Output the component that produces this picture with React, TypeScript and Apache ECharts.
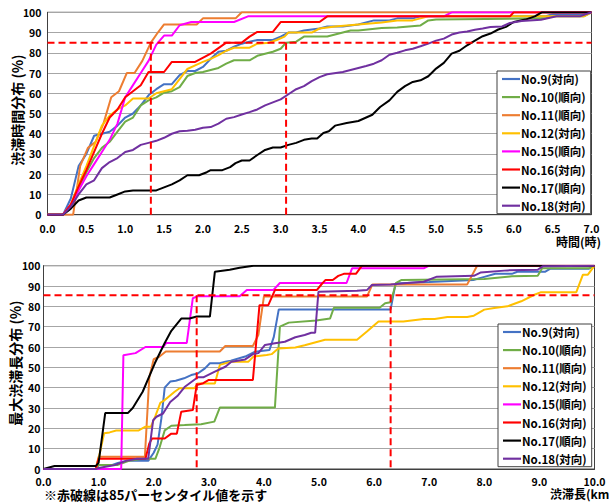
import React, { useEffect, useRef } from "react";
import * as echarts from "echarts";

const NAMES = ["No.9(対向)", "No.10(順向)", "No.11(順向)", "No.12(対向)", "No.15(順向)", "No.16(対向)", "No.17(順向)", "No.18(対向)"];
const COLORS = ["#4472C4", "#70AD47", "#ED7D31", "#FFC000", "#FF00FF", "#FF0000", "#000000", "#7030A0"];

// Top chart: congestion duration (hours) vs cumulative %
const T_NO9 = [[0,0],[0.2,0],[0.3,8],[0.4,24],[0.5,30],[0.6,39],[0.7,40],[0.8,41],[0.9,44],[1.0,48],[1.1,50],[1.2,54],[1.3,59],[1.4,62],[1.5,64.5],[1.6,64.5],[1.7,69],[1.8,71],[1.9,71],[2.0,73],[2.1,77],[2.2,80.5],[2.3,81],[2.4,83],[2.5,84.5],[2.6,85.5],[2.7,86.3],[2.9,86.3],[3.0,88],[3.1,90],[3.2,90],[3.3,91],[3.5,92],[3.6,93],[3.8,93],[4.0,94],[4.1,95],[4.2,96],[4.4,96],[4.5,97],[4.7,97],[4.8,98],[6.4,98],[6.5,99],[6.9,99],[7.0,100]];
const T_NO10 = [[0,0],[0.2,0],[0.3,4],[0.4,13],[0.5,21],[0.6,28],[0.7,33],[0.8,36],[0.9,41],[1.0,46],[1.1,48],[1.2,54],[1.3,56.5],[1.4,58],[1.5,60.3],[1.6,61],[1.7,63],[1.8,68.5],[1.9,70],[2.0,70.5],[2.1,71.5],[2.2,72.5],[2.3,74.6],[2.4,76.3],[2.6,76.3],[2.7,78.5],[2.8,79.5],[2.9,80.5],[3.0,82],[3.07,85],[3.2,85.5],[3.3,88],[3.6,88],[3.8,90],[3.9,91],[4.0,91],[4.3,92.3],[4.5,92.5],[4.8,93.5],[4.9,96],[5.0,96.5],[6.4,97],[6.5,98],[6.9,98],[7.0,100]];
const T_NO11 = [[0,0],[0.33,0],[0.42,24],[0.52,33],[0.62,36],[0.72,45],[0.82,58],[0.92,61],[1.02,70],[1.12,70],[1.22,76],[1.33,85],[1.42,90],[1.5,94],[1.92,94],[2.0,97],[2.42,97],[2.5,100],[7.0,100]];
const T_NO12 = [[0,0],[0.2,0],[0.3,5],[0.4,15],[0.5,24],[0.6,34],[0.7,44],[0.8,49],[0.9,52],[1.0,54],[1.1,57.4],[1.3,57.4],[1.4,60],[1.5,61],[1.6,62],[1.7,67],[1.8,72],[1.9,73.8],[2.0,75.5],[2.1,77],[2.2,78.8],[2.3,81],[2.4,82.5],[2.6,82.5],[2.7,84.5],[2.85,85],[2.95,86.3],[3.05,88],[3.1,90],[3.4,90],[3.5,92],[3.7,93],[4.0,94],[4.3,95],[4.5,96],[4.7,96],[4.8,97],[4.9,98],[6.9,98],[7.0,100]];
const T_NO15 = [[0,0],[0.2,0],[0.3,5],[0.4,12],[0.5,19],[0.6,25],[0.7,31],[0.8,37],[0.9,45],[1.0,58],[1.1,64],[1.2,70],[1.3,76],[1.4,84],[1.5,88.5],[1.6,88.5],[1.7,93.6],[1.85,95.2],[2.4,95.2],[2.58,98],[5.1,98],[5.2,100],[7.0,100]];
const T_NO16 = [[0,0],[0.2,0],[0.3,5],[0.4,14],[0.5,22],[0.6,31],[0.7,40],[0.8,48],[0.9,52],[1.0,58],[1.1,61],[1.2,64],[1.3,70.5],[1.5,70.5],[1.6,75.5],[1.9,75.5],[2.1,79.6],[2.3,85],[2.5,85],[2.6,88],[2.7,90.3],[2.9,90.3],[3.0,95.2],[3.5,95.2],[3.6,98],[5.95,98],[6.0,100],[7.0,100]];
const T_NO17 = [[0,0],[0.2,0],[0.3,3],[0.4,7],[0.5,8.5],[0.8,8.5],[0.9,10],[1.0,11.5],[1.1,12],[1.4,12],[1.5,13.5],[1.6,15],[1.7,17],[1.8,19.5],[1.95,19.5],[2.05,21],[2.1,22],[2.25,22],[2.35,23.5],[2.42,25.5],[2.5,26.8],[2.6,26.8],[2.7,29.5],[2.8,32],[2.9,33.2],[3.0,33.2],[3.1,34.5],[3.2,35.5],[3.3,37],[3.4,37.6],[3.47,37.6],[3.55,40.4],[3.62,41.2],[3.7,44],[3.85,45.3],[4.0,46.3],[4.18,49.4],[4.28,53.2],[4.4,56.5],[4.5,60.7],[4.6,63.5],[4.7,65.6],[4.8,66.4],[4.9,68.4],[5.0,72.2],[5.1,75],[5.2,79.6],[5.3,81],[5.4,83.7],[5.5,86],[5.6,88.2],[5.7,89.5],[5.8,91.5],[5.9,92.8],[6.0,95.2],[6.15,96.4],[6.27,98],[6.36,100],[7.0,100]];
const T_NO18 = [[0,0],[0.2,0],[0.3,4],[0.4,10],[0.5,15],[0.6,17],[0.7,23],[0.8,26],[0.9,28],[1.0,31],[1.1,32],[1.2,34.5],[1.3,35.5],[1.4,36.5],[1.5,38],[1.6,40],[1.7,41.2],[1.8,41.5],[1.9,42],[2.0,43],[2.1,43.3],[2.2,45],[2.3,47.4],[2.4,48.2],[2.5,49.5],[2.6,50.7],[2.7,52],[2.8,54],[2.9,55.5],[3.0,57],[3.1,59.5],[3.2,62],[3.3,63.5],[3.4,66],[3.5,68],[3.6,69.4],[3.8,70.5],[3.9,71.5],[4.0,72.5],[4.1,73.5],[4.2,74.6],[4.3,76.3],[4.4,79],[4.5,80],[4.6,81.2],[4.7,82],[4.8,83.2],[4.9,84.5],[5.0,86],[5.1,87],[5.2,89],[5.3,90],[5.4,90.5],[5.5,91.4],[5.6,92],[5.7,92.7],[5.85,93],[5.95,94.7],[6.1,95.7],[6.35,96.3],[6.55,98],[6.85,98],[7.0,100]];

// Bottom chart: maximum queue length (km) vs cumulative %
const L_NO9 = [[0,0],[0.95,0],[1.0,2],[1.25,2],[1.35,3],[1.5,4],[1.9,4],[2.0,8],[2.07,12],[2.14,25],[2.2,40],[2.3,43],[2.4,43.4],[2.55,44.6],[2.68,46.2],[2.8,47],[2.93,49.5],[3.02,52],[3.2,52],[3.3,52.8],[3.4,53.3],[3.66,55.3],[3.84,57.7],[4.1,58.5],[4.18,65],[4.27,78.5],[6.3,78.5],[6.39,91.3],[7.0,92],[7.8,93],[8.0,94.5],[8.2,96],[8.5,96],[8.6,97],[9.1,97],[9.2,98.5],[9.9,98.5],[10.0,100]];
const L_NO10 = [[0,0],[0.95,0],[1.0,2],[1.35,2],[1.45,3],[1.55,4],[1.8,5],[2.03,5],[2.1,10],[2.2,19],[2.32,21.3],[2.56,21.6],[2.86,22],[3.1,23.3],[3.2,30.2],[4.2,30.2],[4.29,70],[4.45,72],[4.95,73],[5.2,74],[5.27,79.3],[6.1,79.3],[6.2,81.5],[6.3,82],[6.4,91.6],[6.5,93],[8.0,93.5],[8.5,94.8],[8.97,95],[9.05,98.7],[9.9,98.7],[10.0,100]];
const L_NO11 = [[0,0],[0.95,0],[1.0,6],[1.84,6],[1.92,45],[2.0,54],[2.1,55.2],[2.22,57.8],[3.2,57.8],[3.3,60.5],[3.8,60.5],[3.9,66],[4.0,84.8],[5.87,84.8],[5.97,90.8],[7.69,90.8],[7.87,100],[10.0,100]];
const L_NO12 = [[0,0],[0.95,0],[1.0,5],[1.1,17.6],[1.2,18],[1.32,18.9],[1.72,18.9],[1.85,20.8],[1.95,20.8],[2.03,26],[2.12,32.5],[2.2,33.9],[2.38,38],[2.47,39.7],[2.74,39.7],[2.8,42.1],[3.11,42.1],[3.2,51.2],[3.41,52.8],[3.72,52.8],[3.81,55.3],[4.05,56.1],[4.14,56.5],[4.26,59.3],[4.57,59.8],[4.74,60.9],[5.11,63.6],[5.69,63.6],[5.87,67.6],[6.08,72.5],[6.53,72.5],[6.9,73.8],[7.1,73.8],[7.33,74.8],[7.69,74.8],[7.81,75.4],[8.0,78.4],[8.18,79.2],[8.42,80],[8.67,82.5],[8.91,85.7],[9.03,87],[9.67,87],[9.79,95.6],[9.88,95.6],[10.0,100]];
const L_NO15 = [[0,0],[1.41,0],[1.45,56],[1.67,57],[1.85,60],[2.17,60],[2.23,62],[2.6,62],[2.71,84],[2.8,85],[3.56,85],[3.69,88],[4.17,88],[4.29,91.5],[5.5,91.5],[5.6,98.7],[6.9,98.7],[7.0,100],[10.0,100]];
const L_NO16 = [[0,0],[0.95,0],[1.0,5],[1.85,5],[1.92,12.6],[1.97,15],[2.2,15],[2.32,17.4],[2.42,17.4],[2.5,28.2],[2.71,29],[2.78,41.3],[2.9,42.2],[3.0,43.8],[3.8,43.8],[3.92,80.6],[4.08,80.6],[4.2,88],[4.96,88],[5.05,91],[5.12,93],[5.25,93],[5.35,95],[5.45,96],[5.67,96],[5.78,100],[10.0,100]];
const L_NO17 = [[0,0],[0.2,1.5],[0.95,1.5],[1.0,3],[1.12,27.5],[1.53,27.5],[1.62,30],[1.8,38],[2.02,52],[2.2,62],[2.32,68],[2.5,74],[2.65,74],[2.78,75],[3.02,75],[3.11,97],[3.38,98],[3.56,99],[3.81,100],[10.0,100]];
const L_NO18 = [[0,0],[0.95,0],[1.0,0.5],[1.1,1],[1.3,2],[1.4,3],[1.5,4],[1.7,5],[1.9,5],[1.99,24],[2.05,25.7],[2.17,27.3],[2.3,33],[2.44,36.2],[2.56,40.3],[2.8,45.1],[2.9,45.1],[3.11,47.9],[3.3,50.3],[3.41,52.8],[3.66,53.9],[3.8,56.5],[3.9,57],[4.02,61],[4.2,61.8],[4.38,62.6],[4.57,64.8],[4.74,65.9],[4.86,67],[4.93,67],[4.99,87.2],[5.69,87.7],[5.87,88],[5.96,90.5],[6.3,90.8],[6.6,91.5],[6.9,92.1],[7.14,94.6],[7.81,95],[7.93,96.6],[8.42,97.7],[8.97,98],[9.06,99.7],[10.0,100]];

const TOP_DATA = [T_NO9, T_NO10, T_NO11, T_NO12, T_NO15, T_NO16, T_NO17, T_NO18];
const BOT_DATA = [L_NO9, L_NO10, L_NO11, L_NO12, L_NO15, L_NO16, L_NO17, L_NO18];

// 85th percentile reference lines
const P85_TOP_Y = 85;
const P85_TOP_X = [1.33, 3.07];
const P85_BOT_Y = 85.5;
const P85_BOT_X = [2.78, 6.3];

const TOP_X_MAX = 7;
const BOT_X_MAX = 10;

const FONT = "'Noto Sans CJK JP', 'Noto Sans', sans-serif";

export default function App() {
  const ref = useRef<HTMLDivElement>(null);
  useEffect(() => {
    if (!ref.current) return;
    const chart = echarts.init(ref.current, undefined, { renderer: "svg" });
    const series: any[] = [];
    NAMES.forEach((n, i) => {
      series.push({
        name: n, type: "line", xAxisIndex: 0, yAxisIndex: 0, data: TOP_DATA[i],
        symbol: "none", lineStyle: { width: 2, color: COLORS[i] }, itemStyle: { color: COLORS[i] }, silent: true,
      });
    });
    NAMES.forEach((n, i) => {
      series.push({
        name: n, type: "line", xAxisIndex: 1, yAxisIndex: 1, data: BOT_DATA[i],
        symbol: "none", lineStyle: { width: 2, color: COLORS[i] }, itemStyle: { color: COLORS[i] }, silent: true,
      });
    });
    const dash = { width: 2, color: "#FF0000", type: [7, 4] as any };
    const refLine = (data: number[][], gi: number) => ({
      name: "p85", type: "line", xAxisIndex: gi, yAxisIndex: gi, data, symbol: "none",
      lineStyle: dash, silent: true, z: 5,
    });
    series.push(refLine([[0, P85_TOP_Y], [TOP_X_MAX, P85_TOP_Y]], 0));
    P85_TOP_X.forEach((x) => series.push(refLine([[x, P85_TOP_Y], [x, 0]], 0)));
    series.push(refLine([[0, P85_BOT_Y], [BOT_X_MAX, P85_BOT_Y]], 1));
    P85_BOT_X.forEach((x) => series.push(refLine([[x, P85_BOT_Y], [x, 0]], 1)));

    const axisLabel = { color: "#000", fontWeight: "bold" as const, fontSize: 10.5, fontFamily: FONT };
    const legendBase = {
      data: NAMES, orient: "vertical", itemWidth: 18, itemHeight: 14, itemGap: 4.1,
      icon: "path://M0,0L20,0L20,2.4L0,2.4Z",
      backgroundColor: "#fff", borderColor: "#404040", borderWidth: 1, padding: [1, 5, 1, 5],
      selectedMode: false,
      textStyle: { color: "#000", fontWeight: "bold", fontSize: 11.5, fontFamily: FONT, lineHeight: 14, padding: [0, 0, 0, -4] },
      z: 10,
    };
    chart.setOption({
      animation: false,
      grid: [
        { left: 47.5, width: 544, top: 12.3, height: 202.4, show: true, borderColor: "#404040", borderWidth: 1 },
        { left: 43.5, width: 551, top: 265.7, height: 203.3, show: true, borderColor: "#404040", borderWidth: 1 },
      ],
      xAxis: [
        { type: "value", gridIndex: 0, min: 0, max: TOP_X_MAX, interval: 0.5,
          axisLine: { lineStyle: { color: "#404040" } }, axisTick: { show: false }, splitLine: { show: false },
          axisLabel: { ...axisLabel, margin: 9, formatter: (v: number) => v.toFixed(1) } },
        { type: "value", gridIndex: 1, min: 0, max: BOT_X_MAX, interval: 1,
          axisLine: { lineStyle: { color: "#404040" } }, axisTick: { show: false }, splitLine: { show: false },
          axisLabel: { ...axisLabel, margin: 7, formatter: (v: number) => v.toFixed(1) } },
      ],
      yAxis: [
        { type: "value", gridIndex: 0, min: 0, max: 100, interval: 10,
          axisLine: { show: true, lineStyle: { color: "#404040" } }, axisTick: { show: false },
          splitLine: { lineStyle: { color: "#a6a6a6", width: 1 } }, axisLabel: { ...axisLabel, margin: 6 } },
        { type: "value", gridIndex: 1, min: 0, max: 100, interval: 10,
          axisLine: { show: true, lineStyle: { color: "#404040" } }, axisTick: { show: false },
          splitLine: { lineStyle: { color: "#a6a6a6", width: 1 } }, axisLabel: { ...axisLabel, margin: 3 } },
      ],
      legend: [
        { ...legendBase, left: 497, top: 71 },
        { ...legendBase, left: 498, top: 324 },
      ],
      graphic: [
        { type: "text", x: 17, y: 110, rotation: Math.PI / 2,
          style: { text: "渋滞時間分布 (%)", font: `bold 14px ${FONT}`, fill: "#000", textAlign: "center", textVerticalAlign: "middle" } },
        { type: "text", x: 15, y: 363, rotation: Math.PI / 2,
          style: { text: "最大渋滞長分布 (%)", font: `bold 14px ${FONT}`, fill: "#000", textAlign: "center", textVerticalAlign: "middle" } },
        { type: "text", x: 556, y: 241,
          style: { text: "時間(時)", font: `bold 12px ${FONT}`, fill: "#000", textAlign: "left", textVerticalAlign: "middle" } },
        { type: "text", x: 550, y: 493,
          style: { text: "渋滞長(km)", font: `bold 12px ${FONT}`, fill: "#000", textAlign: "left", textVerticalAlign: "middle" } },
        { type: "text", x: 44, y: 494,
          style: { text: "※赤破線は85パーセンタイル値を示す", font: `bold 13px ${FONT}`, fill: "#000", textAlign: "left", textVerticalAlign: "middle" } },
      ],
      series,
    });
    return () => chart.dispose();
  }, []);
  return <div ref={ref} style={{ position: "fixed", left: 0, top: 0, width: 609, height: 502, background: "#fff" }} />;
}
